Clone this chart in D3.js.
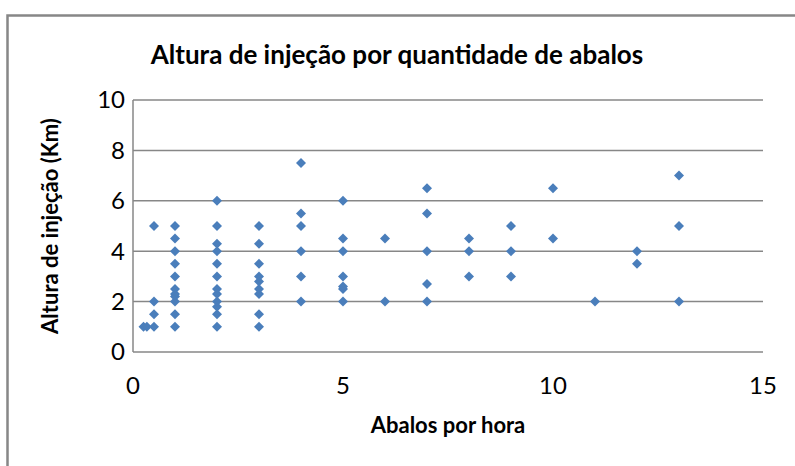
<!DOCTYPE html>
<html>
<head>
<meta charset="utf-8">
<script src="https://cdn.jsdelivr.net/npm/d3@7"></script>
<style>
  body { margin: 0; background: #fff; }
  text { font-family: Lato, "Open Sans", sans-serif; fill: #000; }
</style>
</head>
<body>
<script>
// dados
var abalos = [0.25, 0.33, 0.5, 0.5, 0.5, 0.5,
  1, 1, 1, 1, 1, 1, 1, 1, 1, 1, 1,
  2, 2, 2, 2, 2, 2, 2, 2, 2, 2, 2, 2,
  3, 3, 3, 3, 3, 3, 3, 3, 3,
  4, 4, 4, 4, 4, 4,
  5, 5, 5, 5, 5, 5, 5,
  6, 6,
  7, 7, 7, 7, 7,
  8, 8, 8,
  9, 9, 9,
  10, 10,
  11,
  12, 12,
  13, 13, 13];
var altura = [1, 1, 1, 1.5, 2, 5,
  1, 1.5, 2, 2.2, 2.3, 2.5, 3, 3.5, 4, 4.5, 5,
  1, 1.5, 1.8, 2, 2.3, 2.5, 3, 3.5, 4, 4.3, 5, 6,
  1, 1.5, 2.3, 2.5, 2.8, 3, 3.5, 4.3, 5,
  2, 3, 4, 5, 5.5, 7.5,
  2, 2.5, 2.6, 3, 4, 4.5, 6,
  2, 4.5,
  2, 2.7, 4, 5.5, 6.5,
  3, 4, 4.5,
  3, 4, 5,
  4.5, 6.5,
  2,
  3.5, 4,
  2, 5, 7];
var xTicks = [0, 5, 10, 15];
var yTicks = [0, 2, 4, 6, 8, 10];

var width = 795;
var height = 466;
var svg = d3.select("body").append("svg")
  .attr("width", width)
  .attr("height", height);

// borda externa (so esquerda e topo aparecem)
svg.append("path")
  .attr("d", "M7.5," + height + "V15.5H" + width)
  .attr("fill", "none")
  .attr("stroke", "#878787")
  .attr("stroke-width", 2.5);

var m = {left: 133, right: 763, top: 100, bottom: 352};
var x = d3.scaleLinear().domain([0, 15]).range([m.left, m.right]);
var y = d3.scaleLinear().domain([0, 10]).range([m.bottom, m.top]);

// grade
svg.append("g").selectAll("line")
  .data(yTicks)
  .enter().append("line")
  .attr("x1", m.left).attr("x2", m.right)
  .attr("y1", d => y(d)).attr("y2", d => y(d))
  .attr("stroke", "#878787")
  .attr("stroke-width", 1.5);
svg.append("line")
  .attr("x1", m.left).attr("x2", m.left)
  .attr("y1", m.top).attr("y2", m.bottom)
  .attr("stroke", "#878787")
  .attr("stroke-width", 1.5);

// rotulos dos eixos
svg.append("g").selectAll("text")
  .data(yTicks)
  .enter().append("text")
  .attr("x", m.left - 8)
  .attr("y", d => y(d))
  .attr("dy", "0.35em")
  .attr("text-anchor", "end")
  .style("font-size", "24px")
  .text(d => d);
svg.append("g").selectAll("text")
  .data(xTicks)
  .enter().append("text")
  .attr("x", d => x(d))
  .attr("y", 394)
  .attr("text-anchor", "middle")
  .style("font-size", "24px")
  .text(d => d);

// pontos
svg.append("g").selectAll("path")
  .data(abalos.map((a, i) => [a, altura[i]]))
  .enter().append("path")
  .attr("d", d3.symbol().type(d3.symbolSquare).size(50))
  .attr("transform", d => "translate(" + x(d[0]) + "," + y(d[1]) + ") rotate(45)")
  .attr("fill", "#4a7ebb");

// titulos
svg.append("text")
  .attr("x", 397)
  .attr("y", 64)
  .attr("text-anchor", "middle")
  .style("font-size", "26px")
  .style("font-weight", "bold")
  .text("Altura de injeção por quantidade de abalos");
svg.append("text")
  .attr("x", (m.left + m.right) / 2)
  .attr("y", 433)
  .attr("text-anchor", "middle")
  .style("font-size", "22px")
  .style("font-weight", "bold")
  .text("Abalos por hora");
svg.append("text")
  .attr("transform", "translate(58," + (m.top + m.bottom) / 2 + ") rotate(-90)")
  .attr("text-anchor", "middle")
  .style("font-size", "22px")
  .style("font-weight", "bold")
  .text("Altura de injeção (Km)");
</script>
</body>
</html>
